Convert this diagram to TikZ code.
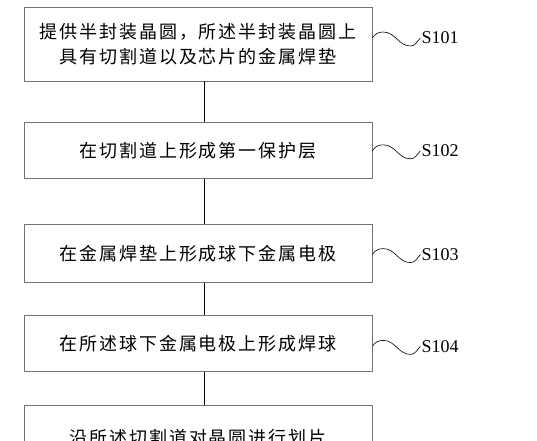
\documentclass[tikz,border=0pt]{standalone}
\usepackage{fontspec}
\setmainfont{Liberation Serif}
\newfontfamily\cjk[LetterSpace=11]{Noto Sans CJK SC}
\usetikzlibrary{positioning}

\begin{document}
\begin{tikzpicture}[
				x=1pt, y=1pt,
				stepnode/.style={rectangle, draw=black!55, line width=0.8pt, minimum width=348pt, align=center, font=\cjk\fontsize{18}{25}\selectfont},
				tagnode/.style={inner sep=1pt, font=\fontsize{18}{20}\selectfont},
				wave/.style={line width=0.6pt},
				link/.style={line width=1pt}
			]

			\useasboundingbox (0,0) rectangle (537,-440);
			\clip (0,0) rectangle (537,-440);

			\node[stepnode, minimum height=74pt] (wafer) at (198,-44) {提供半封装晶圆，所述半封装晶圆上\\具有切割道以及芯片的金属焊垫};
			\node[stepnode, minimum height=56pt] (layer) [below=41pt of wafer] {在切割道上形成第一保护层};
			\node[stepnode, minimum height=58pt] (ubm) [below=45pt of layer] {在金属焊垫上形成球下金属电极};
			\node[stepnode, minimum height=56pt] (ball) [below=32pt of ubm] {在所述球下金属电极上形成焊球};
			\node[stepnode, minimum height=64pt] (dice) [below=33pt of ball] {沿所述切割道对晶圆进行划片};

			\node[tagnode] (s101) [right=48pt of wafer.east, yshift=6pt] {S101};
			\node[tagnode] (s102) [right=48pt of layer.east] {S102};
			\node[tagnode] (s103) [right=48pt of ubm.east, yshift=-1pt] {S103};
			\node[tagnode] (s104) [right=48pt of ball.east, yshift=-3pt] {S104};
			\node[tagnode] (s105) [right=48pt of dice.east, yshift=-12pt] {S105};

			\draw[link] ([xshift=6pt]wafer.south) -- ([xshift=6pt]layer.north);
			\draw[link] ([xshift=6pt]layer.south) -- ([xshift=6pt]ubm.north);
			\draw[link] ([xshift=6pt]ubm.south) -- ([xshift=6pt]ball.north);
			\draw[link] ([xshift=6pt]ball.south) -- ([xshift=6pt]dice.north);

			\foreach \stp/\lbl in {wafer/s101, layer/s102, ubm/s103, ball/s104, dice/s105}
				\draw[wave] (\stp.east |- \lbl.west) to[out=60, in=180] ++(11,6) to[out=0, in=180] ++(27,-14) to[out=0, in=225] (\lbl.west);

		\end{tikzpicture}
\end{document}
